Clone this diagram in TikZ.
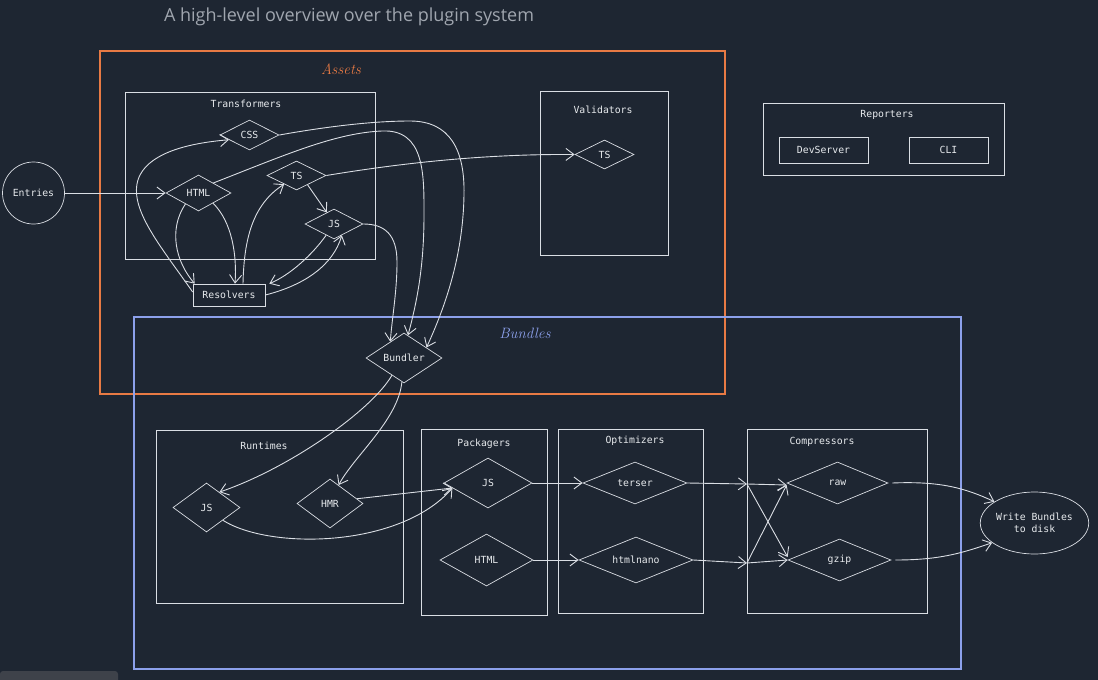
\documentclass[tikz,border=0pt]{standalone}
\usepackage{fontspec}
\usetikzlibrary{shapes.geometric,arrows.meta,calc}
\newfontfamily\monof{DejaVu Sans Mono}
\newfontfamily\titlef{Open Sans}
\definecolor{bg}{RGB}{30,38,50}
\definecolor{fg}{RGB}{218,222,228}
\definecolor{txt}{RGB}{232,235,238}
\definecolor{orng}{RGB}{232,122,68}
\definecolor{blu}{RGB}{140,160,235}
\definecolor{titlec}{RGB}{160,166,175}
\definecolor{chip}{RGB}{62,66,74}
\tikzset{
  frame/.style={draw=fg, line width=0.9pt, rectangle, inner sep=0pt},
  rbox/.style={frame, text=txt, font=\monof\fontsize{9.8}{11}\selectfont},
  dia/.style={diamond, aspect=3, draw=fg, line width=0.7pt, inner sep=0pt, text=txt, font=\monof\fontsize{9.8}{11}\selectfont},
  lbl/.style={text=txt, inner sep=0pt, font=\monof\fontsize{9.8}{11}\selectfont},
  arr/.style={draw=fg, line width=0.9pt, -{Straight Barb[length=8pt,width=12pt,line width=0.9pt]}},
  bigbox/.style={draw=#1, line width=1.8pt, rectangle, inner sep=0pt},
}
\begin{document}
\begin{tikzpicture}[x=1pt,y=-1pt]
\fill[bg] (0,0) rectangle (1098,680);
\useasboundingbox (0,0) rectangle (1098,680);

% title
\node[text=titlec, font=\titlef\fontsize{18}{21}\selectfont, inner sep=0pt] (title) at (349,16.5) {A high-level overview over the plugin system};

% big containers
\node[bigbox=orng, minimum width=625, minimum height=343] (assets) at (412.5,222.5) {};
\node[bigbox=blu, minimum width=827, minimum height=352] (bundles) at (547.5,493) {};
\node[text=orng, font=\itshape\fontsize{15}{17}\selectfont, inner sep=0pt] (assetslbl) at (341,69) {Assets};
\node[text=blu, font=\itshape\fontsize{15}{17}\selectfont, inner sep=0pt] (bundleslbl) at (525,333) {Bundles};

% group boxes
\node[frame, minimum width=250, minimum height=167] (transf) at (250,175.5) {};
\node[lbl] (transflbl) at (246,104) {Transformers};
\node[frame, minimum width=128, minimum height=164] (valid) at (604,173) {};
\node[lbl] (validlbl) at (603,110) {Validators};
\node[frame, minimum width=241, minimum height=72] (report) at (883.5,139) {};
\node[lbl] (reportlbl) at (887,115) {Reporters};
\node[rbox, minimum width=89, minimum height=26] (dev) at (823.5,150) {DevServer};
\node[rbox, minimum width=79, minimum height=26] (cli) at (948.5,150) {CLI};

\node[frame, minimum width=247, minimum height=173] (runt) at (279.5,516.5) {};
\node[lbl] (runtlbl) at (264,446) {Runtimes};
\node[frame, minimum width=126, minimum height=186] (pack) at (484,522) {};
\node[lbl] (packlbl) at (484,444) {Packagers};
\node[frame, minimum width=145, minimum height=184] (optim) at (630.5,521) {};
\node[lbl] (optimlbl) at (635,441) {Optimizers};
\node[frame, minimum width=180, minimum height=184] (compr) at (837,521) {};
\node[lbl] (comprlbl) at (822,442) {Compressors};

% nodes
\node[circle, draw=fg, line width=0.7pt, minimum size=62, inner sep=0pt, text=txt, font=\monof\fontsize{9.8}{11}\selectfont] (entries) at (33.5,193) {Entries};
\node[dia, minimum width=59, minimum height=30] (css) at (249.5,135) {CSS};
\node[dia, minimum width=65, minimum height=36] (html) at (198.5,193) {HTML};
\node[dia, minimum width=59, minimum height=29] (ts) at (296.5,175.5) {TS};
\node[dia, minimum width=58, minimum height=30] (js) at (334,224) {JS};
\node[rbox, line width=0.7pt, minimum width=72, minimum height=22] (res) at (229,295) {Resolvers};
\node[dia, minimum width=59, minimum height=29] (vts) at (604.5,154.5) {TS};
\node[dia, minimum width=76, minimum height=50] (bundler) at (404,358) {Bundler};
\node[dia, minimum width=67, minimum height=49] (rjs) at (206.5,507.5) {JS};
\node[dia, minimum width=66, minimum height=49] (hmr) at (330,503.5) {HMR};
\node[dia, minimum width=88, minimum height=50] (pjs) at (488,483) {JS};
\node[dia, minimum width=93, minimum height=52] (phtml) at (486.5,560) {HTML};
\node[dia, minimum width=104, minimum height=42] (terser) at (635,483) {terser};
\node[dia, minimum width=114, minimum height=46] (hn) at (636,560) {htmlnano};
\node[dia, minimum width=101, minimum height=42] (raw) at (837.5,483) {raw};
\node[dia, minimum width=103, minimum height=42] (gzip) at (839.5,560) {gzip};
\node[ellipse, draw=fg, line width=0.7pt, minimum width=103, minimum height=62, inner sep=0pt, align=center, text=txt, font=\monof\fontsize{9.8}{12}\selectfont] (wb) at (1034.5,523) {Write Bundles\\to disk};
\coordinate (j1) at (747,484);
\coordinate (j2) at (747,563);

% edges: assets
\draw[arr] (entries.east) -- (html.west);
\draw[arr] (html.220) .. controls (168,230) and (176,262) .. ([xshift=2pt]res.north west);
\draw[arr] (html.-35) .. controls (232,222) and (237,255) .. ([xshift=6pt]res.north);
\draw[arr] ([xshift=14pt]res.north) .. controls (244,240) and (252,205) .. (ts.215);
\draw[arr] (ts.-40) -- (js.122);
\draw[arr] (js.235) .. controls (312,255) and (290,275) .. ([xshift=4pt]res.north east);
\draw[arr] (res.east) .. controls (305,285) and (333,265) .. (js.-55);
\draw[arr] ([yshift=3pt]res.west) .. controls (160,245) and (125,205) .. (140,175) .. controls (152,152) and (190,143) .. (css.193);
\draw[arr] (html.34) .. controls (285,155) and (335,133) .. (382,131) .. controls (425,129) and (424,175) .. (424,215) .. controls (424,270) and (416,305) .. (bundler.80);
\draw[arr] (css.east) .. controls (330,126) and (375,121) .. (410,121) .. controls (450,121) and (465,150) .. (464,195) .. controls (463,255) and (446,305) .. (bundler.25);
\draw[arr] (js.east) .. controls (385,224) and (397,235) .. (397,262) .. controls (397,292) and (392,318) .. (bundler.130);
\draw[arr] (ts.east) .. controls (420,160) and (500,154) .. (vts.west);

% edges: bundles
\draw[arr] (bundler.235) .. controls (372,410) and (290,468) .. (rjs.50);
\draw[arr] (bundler.265) .. controls (398,420) and (355,455) .. (hmr.65);
\draw[arr] (hmr.10) -- (pjs.188);
\draw[arr] (rjs.-38) .. controls (270,550) and (400,548) .. (pjs.188);
\draw[arr] (pjs.east) -- (terser.west);
\draw[arr] (phtml.east) -- (hn.west);
\draw[arr] (terser.east) -- (j1);
\draw[arr] (hn.east) -- (j2);
\draw[arr] (j1) -- ([yshift=-2pt]raw.west);
\draw[arr] (j1) -- ([yshift=3pt]gzip.west);
\draw[arr] (j2) -- (gzip.west);
\draw[arr] (j2) -- ([yshift=-2pt]raw.west);
\draw[arr] ([xshift=4pt]raw.east) .. controls (940,481) and (965,488) .. (wb.152);
\draw[arr] ([xshift=4pt]gzip.east) .. controls (940,560) and (962,553) .. (wb.205);

% bottom-left chip
\fill[chip, rounded corners=3pt] (0,671) -- (118,671) -- (118,684) -- (0,684) -- cycle;
\end{tikzpicture}
\end{document}
